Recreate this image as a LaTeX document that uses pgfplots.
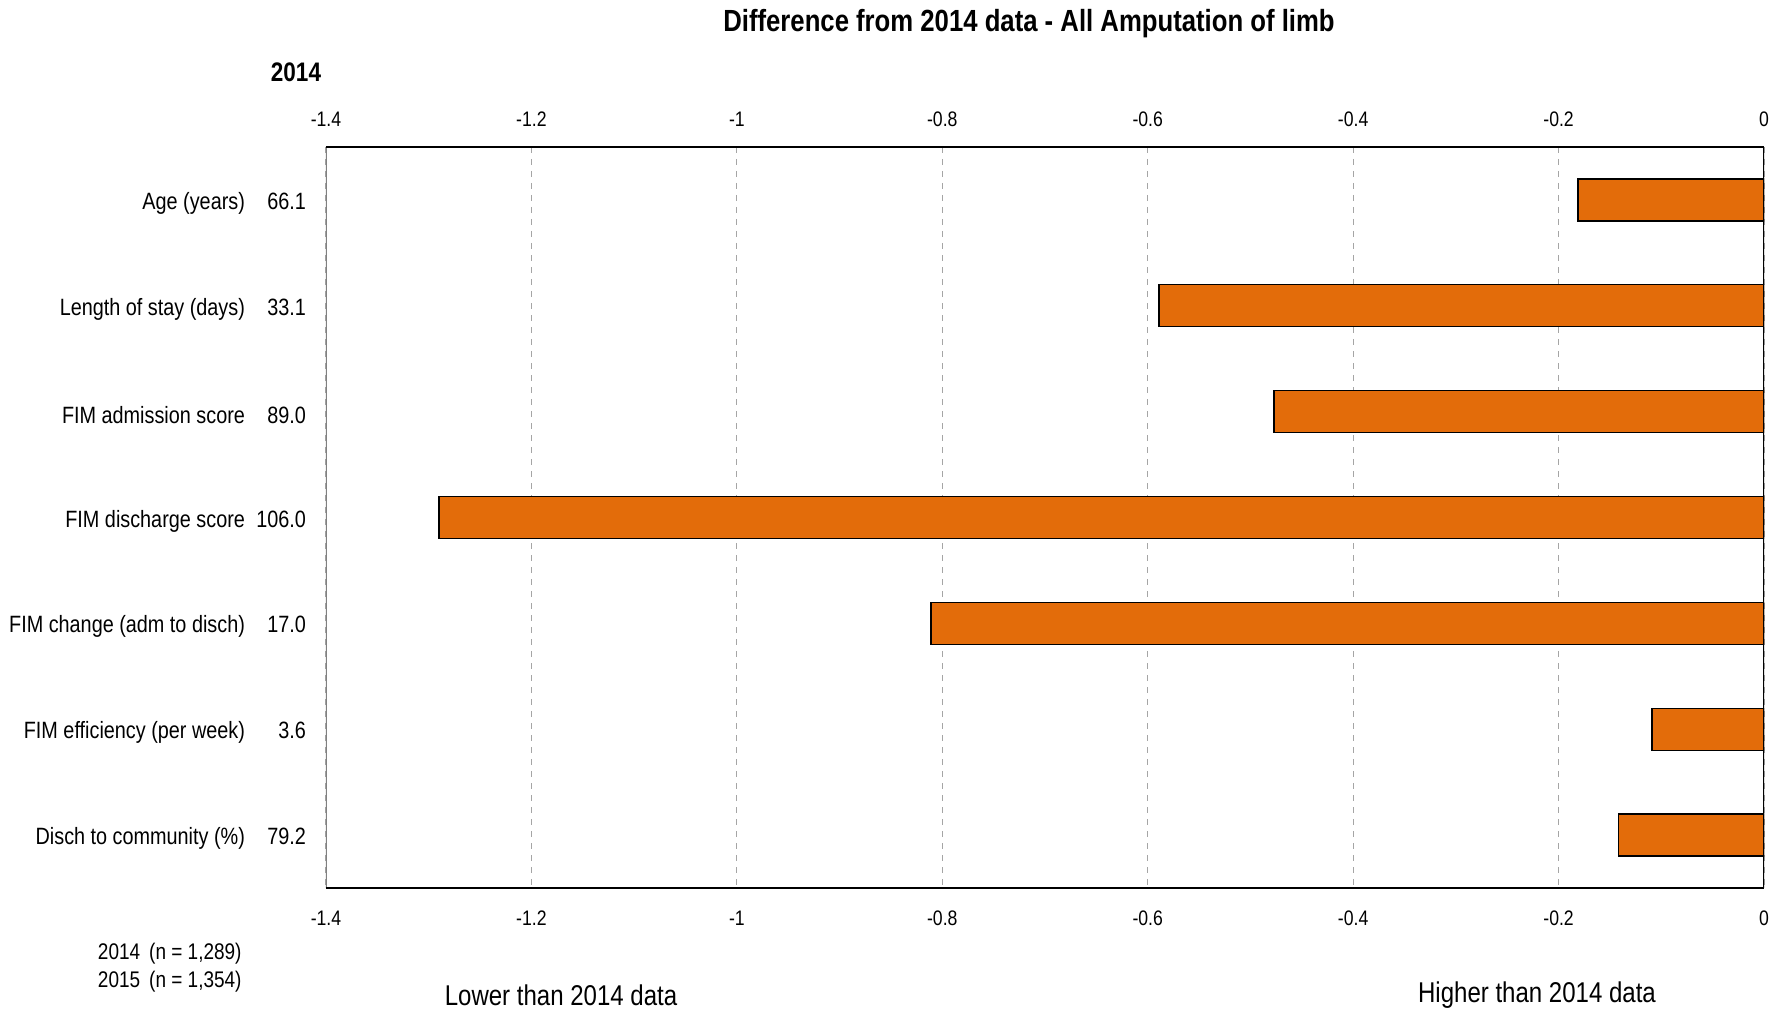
\documentclass[border=0pt]{standalone}
\usepackage{pgfplots}
\pgfplotsset{compat=1.18}
\usepackage{fontspec}
\setmainfont{Liberation Sans}[FakeStretch=0.84]
\definecolor{barorange}{RGB}{227,108,10}
\definecolor{gridgray}{RGB}{165,165,165}
\begin{document}
\begin{tikzpicture}[x=1pt,y=1pt]
\useasboundingbox (0,0) rectangle (894.5,505);
\begin{axis}[
  scale only axis, width=719pt, height=370.5pt,
  at={(163pt,61pt)}, anchor=south west,
  xbar, bar width=21pt,
  xmin=-1.4, xmax=0, ymin=0.5, ymax=7.5, y dir=reverse,
  xtick={-1.4,-1.2,-1,-0.8,-0.6,-0.4,-0.2,0},
  ytick={1,2,3,4,5,6,7},
  yticklabels={
    {Age (years)\makebox[30.5pt][r]{66.1}},
    {Length of stay (days)\makebox[30.5pt][r]{33.1}},
    {FIM admission score\makebox[30.5pt][r]{89.0}},
    {FIM discharge score\makebox[30.5pt][r]{106.0}},
    {FIM change (adm to disch)\makebox[30.5pt][r]{17.0}},
    {FIM efficiency (per week)\makebox[30.5pt][r]{3.6}},
    {Disch to community (\%)\makebox[30.5pt][r]{79.2}}},
  major tick length=0,
  xmajorgrids, grid style={gridgray, dashed, line width=0.6pt},
  axis line style={draw=none},
  xticklabel pos=lower,
  xticklabel style={font=\fontsize{10.5}{12}\selectfont, yshift=-8pt},
  yticklabel style={font=\fontsize{11.8}{14}\selectfont, xshift=-6.5pt, yshift=-1.7pt},
  /pgf/number format/assume math mode=true,
]
\addplot[fill=barorange, draw=black, line width=0.6pt] coordinates {
  (-0.181,1) (-0.589,2) (-0.477,3) (-1.290,4) (-0.811,5) (-0.109,6) (-0.142,7)};
\draw[gray, line width=0.8pt] (axis cs:-1.4,0.5) -- (axis cs:-1.4,7.5);
\draw[black, line width=0.7pt] (axis cs:0,0.5) -- (axis cs:0,7.5);
\draw[black, line width=1.2pt] (axis cs:-1.4,0.5) -- (axis cs:0,0.5);
\draw[black, line width=1.2pt] (axis cs:-1.4,7.5) -- (axis cs:0,7.5);
\end{axis}
\begin{axis}[
  scale only axis, width=719pt, height=370.5pt,
  at={(163pt,61pt)}, anchor=south west,
  xmin=-1.4, xmax=0, ymin=0.5, ymax=7.5,
  xtick={-1.4,-1.2,-1,-0.8,-0.6,-0.4,-0.2,0},
  ytick=\empty,
  major tick length=0,
  axis line style={draw=none},
  xticklabel pos=upper,
  xticklabel style={font=\fontsize{10.5}{12}\selectfont, yshift=6.5pt},
  /pgf/number format/assume math mode=true,
]
\end{axis}
\node[font=\bfseries\fontsize{15.3}{17}\selectfont] at (514.5,493) {Difference from 2014 data - All Amputation of limb};
\node[font=\bfseries\fontsize{13.4}{15}\selectfont] at (148,469) {2014};
\node[anchor=east, inner sep=0pt, font=\fontsize{11.3}{13}\selectfont] at (121,28) {2014\, (n = 1,289)};
\node[anchor=east, inner sep=0pt, font=\fontsize{11.3}{13}\selectfont] at (121,14) {2015\, (n = 1,354)};
\node[font=\fontsize{14.3}{17}\selectfont] at (280.5,7.5) {Lower than 2014 data};
\node[font=\fontsize{14.3}{17}\selectfont] at (768.5,7.5) {Higher than 2014 data};
\end{tikzpicture}
\end{document}
